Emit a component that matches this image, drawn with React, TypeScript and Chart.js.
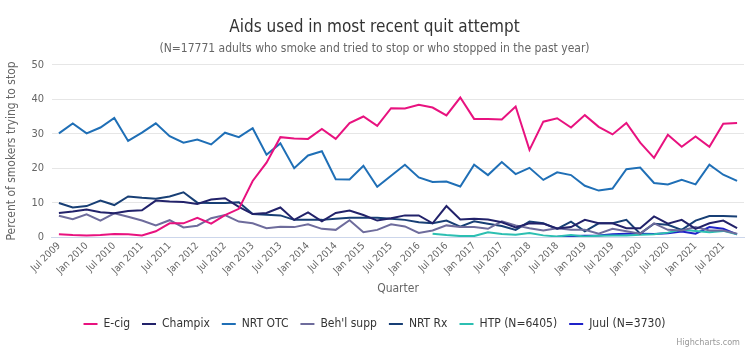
import React, { useEffect, useRef } from 'react';
import { Chart, registerables } from 'chart.js';
Chart.register(...registerables);

const FONT = "'Liberation Sans Narrow', 'DejaVu Sans Condensed', 'Roboto', sans-serif";

const quarters = [
  'Jul 2009', 'Oct 2009', 'Jan 2010', 'Apr 2010', 'Jul 2010', 'Oct 2010', 'Jan 2011', 'Apr 2011', 'Jul 2011', 'Oct 2011',
  'Jan 2012', 'Apr 2012', 'Jul 2012', 'Oct 2012', 'Jan 2013', 'Apr 2013', 'Jul 2013', 'Oct 2013', 'Jan 2014', 'Apr 2014',
  'Jul 2014', 'Oct 2014', 'Jan 2015', 'Apr 2015', 'Jul 2015', 'Oct 2015', 'Jan 2016', 'Apr 2016', 'Jul 2016', 'Oct 2016',
  'Jan 2017', 'Apr 2017', 'Jul 2017', 'Oct 2017', 'Jan 2018', 'Apr 2018', 'Jul 2018', 'Oct 2018', 'Jan 2019', 'Apr 2019',
  'Jul 2019', 'Oct 2019', 'Jan 2020', 'Apr 2020', 'Jul 2020', 'Oct 2020', 'Jan 2021', 'Apr 2021', 'Jul 2021', 'Oct 2021',
];

const ecig = [
  0.8, 0.6, 0.5, 0.6, 0.9, 0.8, 0.5, 1.7, 4.0, 4.0,
  5.6, 3.9, 6.4, 8.2, 16.3, 21.6, 29.0, 28.6, 28.5, 31.4,
  28.5, 33.1, 35.0, 32.3, 37.4, 37.3, 38.4, 37.6, 35.3, 40.5,
  34.3, 34.3, 34.1, 37.9, 25.3, 33.5, 34.5, 31.8, 35.4, 32.0,
  29.8, 33.1, 27.4, 23.0, 29.7, 26.2, 29.2, 26.2, 32.9, 33.1,
];

const champix = [
  7.0, 7.4, 8.0, 7.2, 6.9, 7.6, 7.8, 10.6, 10.3, 10.2,
  9.6, 10.9, 11.3, 8.8, 6.7, 7.0, 8.6, 5.0, 7.2, 4.6,
  7.0, 7.7, 6.4, 4.8, 5.5, 6.3, 6.3, 4.0, 9.0, 5.1,
  5.3, 5.1, 4.3, 2.8, 4.0, 3.9, 2.5, 2.9, 5.0, 4.0,
  4.0, 2.6, 2.6, 6.0, 3.9, 5.0, 2.4, 4.0, 4.8, 2.6,
];

const nrtOtc = [
  30.1, 33.0, 30.1, 31.8, 34.6, 27.9, 30.3, 33.0, 29.3, 27.4,
  28.3, 26.9, 30.3, 29.0, 31.6, 23.9, 27.2, 20.0, 23.7, 24.9,
  16.8, 16.7, 20.7, 14.6, 17.8, 21.0, 17.3, 16.0, 16.1, 14.7,
  21.0, 18.0, 21.8, 18.3, 20.1, 16.6, 18.8, 18.0, 14.9, 13.5,
  14.1, 19.7, 20.2, 15.7, 15.3, 16.6, 15.3, 21.0, 18.1, 16.3,
];

const behSupp = [
  6.2, 5.2, 6.6, 4.8, 6.9, 5.9, 4.8, 3.4, 4.9, 2.8,
  3.3, 5.5, 6.4, 4.5, 4.0, 2.6, 3.0, 2.9, 3.7, 2.4,
  2.1, 4.9, 1.4, 2.1, 3.7, 3.1, 1.2, 1.9, 3.4, 2.9,
  2.9, 2.4, 4.6, 3.4, 2.6, 1.9, 2.6, 2.1, 2.1, 1.0,
  2.4, 1.7, 1.0, 4.0, 2.1, 1.9, 2.9, 1.9, 1.9, 1.0,
];

const nrtRx = [
  9.9, 8.6, 9.0, 10.6, 9.3, 11.8, 11.4, 11.1, 11.8, 13.0,
  10.0, 9.9, 9.9, 10.1, 6.7, 6.5, 6.3, 5.0, 5.0, 5.0,
  5.3, 5.6, 5.6, 5.6, 5.3, 5.0, 4.3, 4.0, 4.8, 3.0,
  4.6, 3.9, 3.2, 2.1, 4.5, 4.0, 2.4, 4.5, 1.7, 4.0,
  4.0, 5.0, 1.0, 3.9, 3.6, 2.1, 4.8, 6.1, 6.1, 6.0,
];

const htp = [
  null, null, null, null, null, null, null, null, null, null,
  null, null, null, null, null, null, null, null, null, null,
  null, null, null, null, null, null, null, 1.0, 0.6, 0.3,
  0.3, 1.4, 0.9, 0.7, 1.2, 0.5, 0.2, 0.6, 0.2, 0.4,
  0.5, 0.5, 0.7, 0.8, 1.3, 2.2, 1.8, 1.4, 1.8, 0.8,
];

const juul = [
  null, null, null, null, null, null, null, null, null, null,
  null, null, null, null, null, null, null, null, null, null,
  null, null, null, null, null, null, null, null, null, null,
  null, null, null, null, null, null, 0.1, 0.3, 0.4, 0.5,
  0.8, 1.0, 1.0, 0.9, 1.1, 1.6, 1.0, 2.9, 2.4, 0.8,
];

const seriesNames = ['E-cig', 'Champix', 'NRT OTC', "Beh'l supp", 'NRT Rx', 'HTP (N=6405)', 'Juul (N=3730)'];
const seriesColors = ['#e8127f', '#22226a', '#1f6fb6', '#6e6c9c', '#183f75', '#2cbfb2', '#1f22c8'];
const seriesData = [ecig, champix, nrtOtc, behSupp, nrtRx, htp, juul];

const creditPlugin = {
  id: 'credit',
  afterDraw(chart: any) {
    const ctx = chart.ctx;
    ctx.save();
    ctx.font = `9px ${FONT}`;
    ctx.fillStyle = '#999999';
    ctx.textAlign = 'right';
    ctx.textBaseline = 'middle';
    ctx.fillText('Highcharts.com', 740, 343);
    ctx.restore();
  },
};

export default function App() {
  const canvasRef = useRef<HTMLCanvasElement | null>(null);

  useEffect(() => {
    const canvas = canvasRef.current;
    if (!canvas) return;
    const chart = new Chart(canvas, {
      type: 'line',
      data: {
        labels: quarters,
        datasets: seriesData.map((d, i) => ({
          label: seriesNames[i],
          data: d as any,
          borderColor: seriesColors[i],
          backgroundColor: seriesColors[i],
          borderWidth: 2,
          pointRadius: 0,
          tension: 0,
          spanGaps: false,
        })),
      },
      options: {
        animation: false,
        responsive: false,
        maintainAspectRatio: false,
        layout: { padding: { left: 5, right: 6, top: 0, bottom: 13 } },
        plugins: {
          title: {
            display: true,
            text: 'Aids used in most recent quit attempt',
            color: '#333333',
            font: { family: FONT, size: 17, weight: 'normal' },
            padding: { top: 17, bottom: 0 },
          },
          subtitle: {
            display: true,
            text: '(N=17771 adults who smoke and tried to stop or who stopped in the past year)',
            color: '#666666',
            font: { family: FONT, size: 12, weight: 'normal' },
            padding: { top: 4, bottom: 9 },
          },
          legend: {
            display: true,
            position: 'bottom',
            labels: {
              usePointStyle: true,
              pointStyle: 'line',
              pointStyleWidth: 14,
              boxHeight: 12,
              color: '#333333',
              font: { family: FONT, size: 12, weight: 'normal' },
              padding: 12,
            },
          },
          tooltip: { enabled: false },
        },
        scales: {
          x: {
            type: 'category',
            offset: true,
            grid: { display: false, drawTicks: false },
            border: { display: true, color: '#ccd6eb', width: 1 },
            ticks: {
              autoSkip: false,
              maxRotation: 45,
              minRotation: 45,
              color: '#666666',
              font: { family: FONT, size: 10 },
              padding: 3,
              callback: (_v: any, idx: number) => (idx % 2 === 0 ? quarters[idx] : ''),
            },
            title: {
              display: true,
              text: 'Quarter',
              color: '#666666',
              font: { family: FONT, size: 12 },
              padding: { top: 2, bottom: 10 },
            },
          },
          y: {
            min: 0,
            max: 50,
            grid: { color: '#e6e6e6', drawTicks: false },
            border: { display: false },
            ticks: {
              stepSize: 10,
              color: '#666666',
              font: { family: FONT, size: 11 },
              padding: 8,
            },
            title: {
              display: true,
              text: 'Percent of smokers trying to stop',
              color: '#666666',
              font: { family: FONT, size: 12 },
              padding: { top: 0, bottom: 4 },
            },
          },
        },
      },
      plugins: [creditPlugin],
    });
    return () => chart.destroy();
  }, []);

  return (
    <div style={{ position: 'fixed', left: 0, top: 0, width: 750, height: 353, background: '#ffffff' }}>
      <canvas ref={canvasRef} width={750} height={353} style={{ width: 750, height: 353 }} />
    </div>
  );
}
